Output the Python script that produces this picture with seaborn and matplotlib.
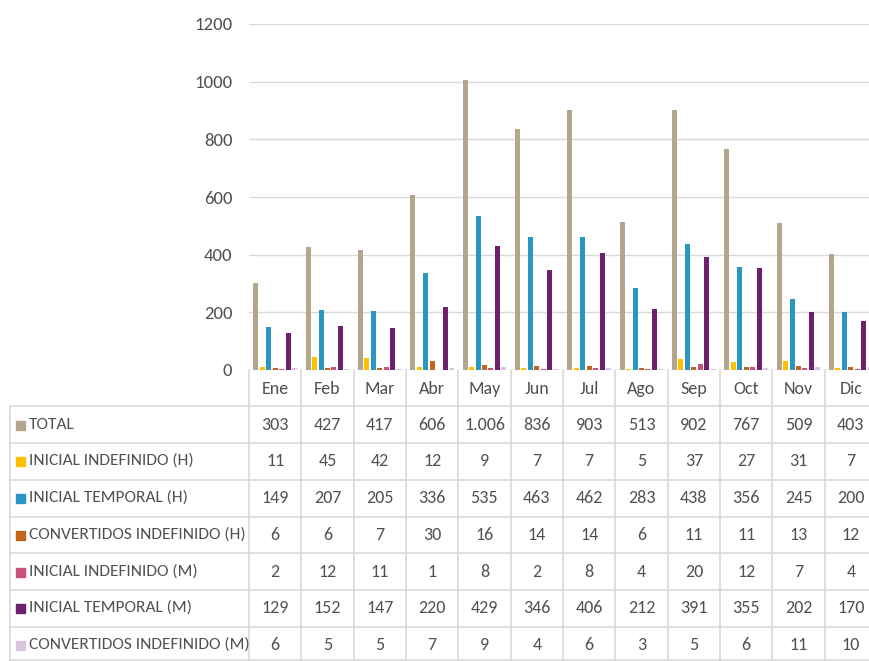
import matplotlib
matplotlib.use("Agg")
import matplotlib.pyplot as plt
import matplotlib.transforms as mtransforms
import seaborn as sns
import pandas as pd

months = ["Ene", "Feb", "Mar", "Abr", "May", "Jun", "Jul", "Ago", "Sep", "Oct", "Nov", "Dic"]
series = ["TOTAL", "INICIAL INDEFINIDO (H)", "INICIAL TEMPORAL (H)", "CONVERTIDOS INDEFINIDO (H)",
          "INICIAL INDEFINIDO (M)", "INICIAL TEMPORAL (M)", "CONVERTIDOS INDEFINIDO (M)"]
total = [303, 427, 417, 606, 1006, 836, 903, 513, 902, 767, 509, 403]
ini_indef_h = [11, 45, 42, 12, 9, 7, 7, 5, 37, 27, 31, 7]
ini_temp_h = [149, 207, 205, 336, 535, 463, 462, 283, 438, 356, 245, 200]
conv_indef_h = [6, 6, 7, 30, 16, 14, 14, 6, 11, 11, 13, 12]
ini_indef_m = [2, 12, 11, 1, 8, 2, 8, 4, 20, 12, 7, 4]
ini_temp_m = [129, 152, 147, 220, 429, 346, 406, 212, 391, 355, 202, 170]
conv_indef_m = [6, 5, 5, 7, 9, 4, 6, 3, 5, 6, 11, 10]
values = [total, ini_indef_h, ini_temp_h, conv_indef_h, ini_indef_m, ini_temp_m, conv_indef_m]
colors = ["#B4A68C", "#FFC000", "#2A97C2", "#C0651E", "#C8527C", "#6E1F6E", "#D7C6DD"]
yticks = [0, 200, 400, 600, 800, 1000, 1200]

rows = []
for s, vals in zip(series, values):
    for m, v in zip(months, vals):
        rows.append({"Mes": m, "Serie": s, "Valor": v})
df = pd.DataFrame(rows)

sns.set_theme(style="white")
FONT = ["Carlito", "DejaVu Sans"]
plt.rcParams["font.family"] = FONT
TXT = "#505050"
GRID = "#D9D9D9"
FS = 12.5

W, H = 870, 661
fig = plt.figure(figsize=(W / 100, H / 100), dpi=100)
ax = fig.add_axes([249 / W, 1 - 370 / H, (877 - 249) / W, (370 - 24) / H])

sns.barplot(data=df, x="Mes", y="Valor", hue="Serie", order=months, hue_order=series,
            palette=colors, width=0.86, gap=0.22, dodge=True, ax=ax, legend=False,
            saturation=1, linewidth=0)

ax.set_xlim(-0.5, len(months) - 0.5)
ax.set_ylim(0, 1200)
ax.set_yticks(yticks)
ax.set_yticklabels([str(t) for t in yticks], color=TXT, fontsize=13.5)
ax.tick_params(axis="y", length=0, pad=12)
ax.set_xticks([])
ax.set_xlabel("")
ax.set_ylabel("")
for sp in ax.spines.values():
    sp.set_visible(False)
ax.grid(axis="y", color=GRID, linewidth=1)
ax.set_axisbelow(True)

def fy(px):
    return 1 - px / H

def fx(px):
    return px / W

blend = mtransforms.blended_transform_factory(ax.transData, fig.transFigure)

# table lines
hlines = [406, 443, 480, 517, 553, 590, 627, 660]
for y in hlines:
    fig.add_artist(plt.Line2D([fx(10), fx(870)], [fy(y), fy(y)], color=GRID, lw=1.2))
fig.add_artist(plt.Line2D([fx(10), fx(10)], [fy(406), fy(661)], color=GRID, lw=1.2))
for i in range(len(months) + 1):
    fig.add_artist(plt.Line2D([i - 0.5, i - 0.5], [fy(370), fy(661)], color=GRID, lw=1.2,
                              transform=blend))

# header months
for i, m in enumerate(months):
    fig.text(i, fy(389), m, transform=blend, ha="center", va="center", fontsize=13, color=TXT)

def fmt(v):
    return f"{v:,}".replace(",", ".")

row_centers = [425, 461, 498, 535, 572, 608, 645]
for r, (s, vals, c) in enumerate(zip(series, values, colors)):
    yc = row_centers[r]
    fig.add_artist(plt.Rectangle((fx(16), fy(yc + 5)), 9 / W, 9 / H, color=c,
                                 transform=fig.transFigure))
    fig.text(fx(29), fy(yc), s, ha="left", va="center", fontsize=FS, color=TXT)
    for i, v in enumerate(vals):
        fig.text(i, fy(yc), fmt(v), transform=blend, ha="center", va="center",
                 fontsize=13, color=TXT)

fig.savefig("out.png", dpi=100)
